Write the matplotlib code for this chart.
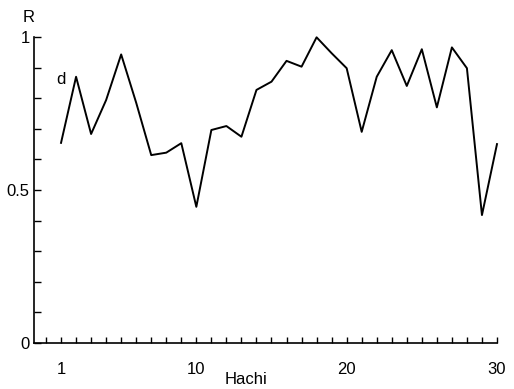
import matplotlib
matplotlib.use("Agg")
import matplotlib.pyplot as plt
from matplotlib.ticker import MultipleLocator, FixedLocator

plt.rcParams['font.family'] = ['Liberation Sans', 'DejaVu Sans']

# Hachi index and R values
hachi = list(range(1, 31))
r_vals = [0.654, 0.870, 0.683, 0.794, 0.943, 0.785, 0.614, 0.622, 0.653, 0.445,
          0.696, 0.709, 0.674, 0.827, 0.854, 0.922, 0.903, 0.999, 0.947, 0.898,
          0.690, 0.870, 0.957, 0.840, 0.960, 0.770, 0.966, 0.898, 0.418, 0.650]
x_labels = [1, 10, 20, 30]
y_labels = [0, 0.5, 1]
y_label_text = ["0", "0.5", "1"]

fig = plt.figure(figsize=(5.14, 3.89), dpi=100)
ax = fig.add_axes([0.0661, 0.1183, 0.9008, 0.7866])

ax.plot(hachi, r_vals, color="black", lw=1.4, clip_on=False)

ax.set_xlim(-0.8, 30)
ax.set_ylim(0, 1)
ax.spines['top'].set_visible(False)
ax.spines['right'].set_visible(False)
ax.spines['left'].set_linewidth(1.2)
ax.spines['bottom'].set_linewidth(1.2)

ax.xaxis.set_major_locator(FixedLocator(x_labels))
ax.set_xticklabels([str(v) for v in x_labels])
ax.xaxis.set_minor_locator(MultipleLocator(1))
ax.yaxis.set_major_locator(FixedLocator(y_labels))
ax.set_yticklabels(y_label_text)
ax.yaxis.set_minor_locator(MultipleLocator(0.1))

ax.tick_params(axis='x', which='both', direction='in', length=4, width=1, pad=14, labelsize=12)
ax.tick_params(axis='y', which='both', direction='in', length=5, width=1, pad=3, labelsize=12)

fig.text(246 / 514, 1 - 380 / 389, "Hachi", fontsize=12, ha='center', va='center')
fig.text(0.055, 0.975, "R", fontsize=12, ha='center', va='top')
ax.text(1.0, 0.86, "d", fontsize=12, ha='center', va='center')

fig.savefig("out.png", dpi=100)
